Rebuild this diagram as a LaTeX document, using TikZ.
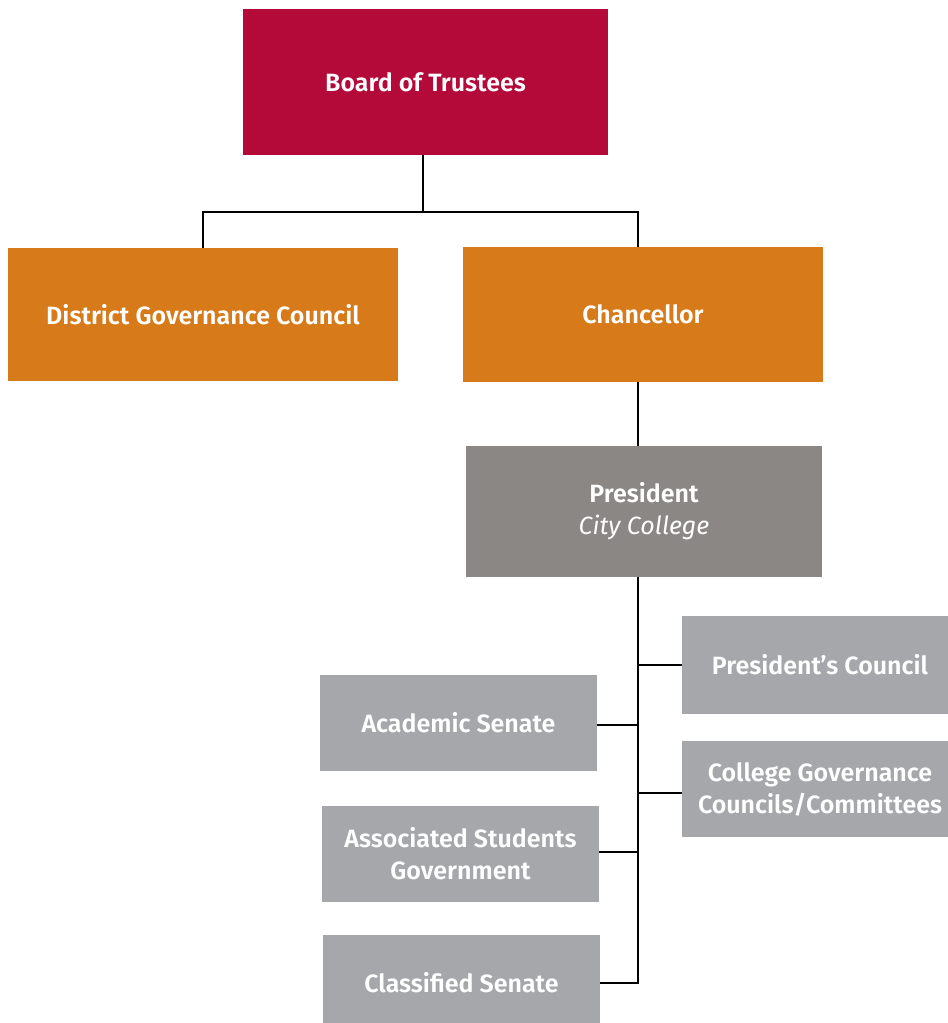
\documentclass[tikz,border=0pt]{standalone}
\usepackage{fontspec}
\setmainfont{Fira Sans}[BoldFont={Fira Sans SemiBold},BoldItalicFont={Fira Sans SemiBold Italic}]
\definecolor{crim}{HTML}{B40A3A}
\definecolor{orng}{HTML}{D77A1A}
\definecolor{dgry}{HTML}{8A8784}
\definecolor{lgry}{HTML}{A6A7AA}
\tikzset{
  box/.style={rectangle, inner sep=0pt, align=center, text=white,
    font=\fontsize{25}{32}\selectfont\bfseries},
  conn/.style={draw=black, line width=1.2pt}
}
\begin{document}
\begin{tikzpicture}[x=1pt,y=-1pt]
\useasboundingbox (0,0) rectangle (948,1023);
\node[box, fill=crim, minimum width=365pt, minimum height=146pt] (board) at (425.5,82) {Board of Trustees};
\node[box, fill=orng, minimum width=390pt, minimum height=133pt] (dgc) at (203,314.5) {District Governance Council};
\node[box, fill=orng, minimum width=360pt, minimum height=135pt] (chan) at (643,314.5) {Chancellor};
\node[box, fill=dgry, minimum width=356pt, minimum height=131pt] (pres) at (644,511.5) {President\\\mdseries\itshape City College};
\node[box, fill=lgry, minimum width=276pt, minimum height=98pt] (pc) at (820,665) {President’s Council};
\node[box, fill=lgry, minimum width=276pt, minimum height=96pt] (cg) at (820,789) {College Governance\\Councils/Committees};
\node[box, fill=lgry, minimum width=277pt, minimum height=96pt] (as) at (458.5,723) {Academic Senate};
\node[box, fill=lgry, minimum width=277pt, minimum height=96pt] (asg) at (460.5,854) {Associated Students\\Government};
\node[box, fill=lgry, minimum width=277pt, minimum height=96pt] (cs) at (461.5,983) {Classified Senate};
\coordinate (tk) at (638,212);
\draw[conn] ([xshift=-2.5pt]board.south) -- ([xshift=-2.5pt]board.south |- tk);
\draw[conn] (dgc.north) |- (tk) -- (tk |- chan.north);
\draw[conn] (tk |- chan.south) -- (tk |- pres.north);
\draw[conn] (tk |- pres.south) -- (tk |- cs.east) -- (cs.east);
\draw[conn] (pc.west) -- (pc.west -| tk);
\draw[conn] ([yshift=-4pt]cg.west) -- ([yshift=-4pt]cg.west -| tk);
\draw[conn] ([yshift=-2pt]as.east) -- ([yshift=-2pt]as.east -| tk);
\draw[conn] ([yshift=2pt]asg.east) -- ([yshift=2pt]asg.east -| tk);
\end{tikzpicture}
\end{document}
